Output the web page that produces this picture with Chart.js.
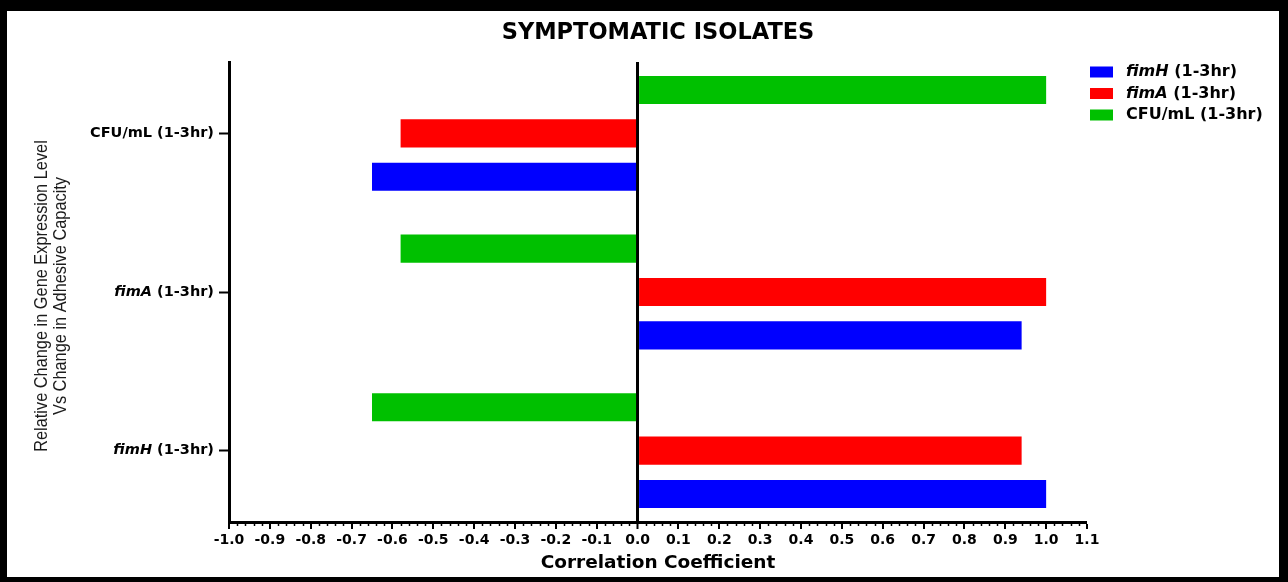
<!DOCTYPE html>
<html>
<head>
<meta charset="utf-8">
<title>Symptomatic isolates – correlation coefficients</title>
<script src="https://cdn.jsdelivr.net/npm/chart.js@4.4.1/dist/chart.umd.min.js"></script>
<style>
  html, body { margin: 0; padding: 0; background: #000; }
  #wrap { position: relative; width: 1288px; height: 582px; }
  canvas { display: block; }
</style>
</head>
<body>
<div id="wrap"><canvas id="chart" width="1288" height="582"></canvas></div>
<script>
// Categories on the vertical axis, top to bottom
const categories = ['CFU/mL (1-3hr)', 'fimA (1-3hr)', 'fimH (1-3hr)'];

// Correlation coefficients per category (same order as categories)
const fimHValues = [-0.65, 0.94, 1.0];
const fimAValues = [-0.58, 1.0, 0.94];
const cfuValues  = [1.0, -0.58, -0.65];

// Series names (legend order)
const seriesNames = ['fimH (1-3hr)', 'fimA (1-3hr)', 'CFU/mL (1-3hr)'];
const seriesColors = ['#0000ff', '#ff0000', '#00c000'];
const seriesValues = [fimHValues, fimAValues, cfuValues];

// Horizontal axis range and tick step
const xMin = -1.0, xMax = 1.1, xStep = 0.1, xMinorPerMajor = 5;

const titleText = 'SYMPTOMATIC ISOLATES';
const xTitle = 'Correlation Coefficient';
const yTitle = ['Relative Change in Gene Expression Level', 'Vs Change in Adhesive Capacity'];

const BOLD = 'bold';
const FAMILY = '"DejaVu Sans", "Liberation Sans", Arial, sans-serif';

// Gene names are written in italics, the rest upright
function drawMixedLabel(ctx, text, x, y, size, align) {
  const sp = text.indexOf(' ');
  const head = sp > 0 ? text.slice(0, sp) : text;
  const tail = sp > 0 ? text.slice(sp) : '';
  const italic = /^fim/.test(head);
  const headFont = (italic ? 'italic ' : '') + BOLD + ' ' + size + 'px ' + FAMILY;
  const tailFont = BOLD + ' ' + size + 'px ' + FAMILY;
  ctx.font = headFont;
  const wHead = ctx.measureText(head).width;
  ctx.font = tailFont;
  const wTail = ctx.measureText(tail).width;
  const sx = align === 'right' ? x - (wHead + wTail) : x;
  ctx.textAlign = 'left';
  ctx.textBaseline = 'middle';
  ctx.font = headFont;
  ctx.fillText(head, sx, y);
  ctx.font = tailFont;
  ctx.fillText(tail, sx + wHead, y);
}

const framePlugin = {
  id: 'frame',
  beforeDraw(chart) {
    const ctx = chart.ctx;
    ctx.save();
    ctx.fillStyle = '#000';
    ctx.fillRect(0, 0, chart.width, chart.height);
    ctx.fillStyle = '#fff';
    ctx.fillRect(7, 11, chart.width - 16, chart.height - 16);
    ctx.restore();
  }
};

const decorPlugin = {
  id: 'decor',
  afterDraw(chart) {
    const ctx = chart.ctx;
    const xs = chart.scales.x, ys = chart.scales.y;
    const area = chart.chartArea;
    ctx.save();
    ctx.fillStyle = '#000';
    ctx.strokeStyle = '#000';

    // chart title
    ctx.font = 'bold 22.5px ' + FAMILY;
    ctx.textAlign = 'center';
    ctx.textBaseline = 'middle';
    ctx.fillText(titleText, (area.left + area.right) / 2, 33);

    // vertical axis title: two condensed lines, rotated
    ctx.save();
    ctx.translate(42, (area.top + area.bottom) / 2 + 4);
    ctx.rotate(-Math.PI / 2);
    ctx.scale(0.86, 1);
    ctx.fillStyle = '#1c1c1c';
    ctx.font = '19px "Liberation Sans", Arial, sans-serif';
    ctx.textAlign = 'center';
    ctx.textBaseline = 'middle';
    yTitle.forEach((line, i) => ctx.fillText(line, 0, i * 18.5));
    ctx.restore();

    // minor ticks along the horizontal axis
    ctx.lineWidth = 1.5;
    const nMinor = Math.round((xMax - xMin) / xStep * xMinorPerMajor);
    for (let i = 0; i <= nMinor; i++) {
      if (i % xMinorPerMajor === 0) continue;
      const v = xMin + i * xStep / xMinorPerMajor;
      const px = Math.round(xs.getPixelForValue(v)) + 0.5;
      ctx.beginPath();
      ctx.moveTo(px, area.bottom);
      ctx.lineTo(px, area.bottom + 4);
      ctx.stroke();
    }

    // category labels on the vertical axis
    ys.ticks.forEach((t, i) => {
      const py = ys.getPixelForTick(i);
      drawMixedLabel(ctx, categories[t.value], area.left - 15, py, 14.5, 'right');
    });

    // legend
    const lx = area.right + 3, ly = 72, step = 21.5;
    seriesNames.forEach((name, i) => {
      const cy = ly + i * step;
      ctx.fillStyle = seriesColors[i];
      ctx.fillRect(lx, cy - 5.5, 23, 11);
      ctx.fillStyle = '#000';
      drawMixedLabel(ctx, name, lx + 36, cy, 16, 'left');
    });
    ctx.restore();
  }
};

// Datasets listed so the CFU bar sits on top of each group, fimH at the bottom
const drawOrder = [2, 1, 0];
const datasets = drawOrder.map(s => ({
  label: seriesNames[s],
  data: seriesValues[s].map((v, i) => ({ x: v, y: i })),
  backgroundColor: seriesColors[s],
  borderWidth: 0,
  categoryPercentage: 0.82,
  barPercentage: 0.65
}));

new Chart(document.getElementById('chart'), {
  type: 'bar',
  data: { datasets },
  options: {
    indexAxis: 'y',
    responsive: false,
    animation: false,
    layout: { padding: { top: 62, right: 201, left: 0, bottom: 0 } },
    plugins: {
      legend: { display: false },
      title: { display: false },
      tooltip: { enabled: false }
    },
    scales: {
      x: {
        type: 'linear',
        min: xMin,
        max: xMax,
        z: 1,
        afterFit(scale) { scale.height = 60; },
        ticks: {
          stepSize: xStep,
          autoSkip: false,
          maxRotation: 0,
          padding: 3,
          color: '#000',
          font: { family: FAMILY, size: 14, weight: 'bold' },
          callback: v => Number(v).toFixed(1)
        },
        grid: {
          drawOnChartArea: true,
          drawTicks: true,
          tickLength: 7,
          tickColor: '#000',
          tickWidth: 2,
          color: c => (c.tick && Math.abs(c.tick.value) < 1e-9) ? '#000' : 'rgba(0,0,0,0)',
          lineWidth: c => (c.tick && Math.abs(c.tick.value) < 1e-9) ? 3 : 0
        },
        border: { display: true, color: '#000', width: 3 },
        title: {
          display: true,
          text: xTitle,
          color: '#000',
          font: { family: FAMILY, size: 18.5, weight: 'bold' },
          padding: { top: 0, bottom: 8 }
        }
      },
      y: {
        type: 'linear',
        reverse: true,
        offset: false,
        min: -0.45,
        max: 2.45,
        afterBuildTicks(scale) { scale.ticks = categories.map((_, i) => ({ value: i })); },
        afterFit(scale) { scale.width = 229; },
        ticks: { display: false },
        grid: {
          offset: false,
          drawOnChartArea: false,
          drawTicks: true,
          tickLength: 10,
          tickWidth: 2,
          tickColor: '#000',
          color: '#000'
        },
        border: { display: true, color: '#000', width: 3 },
        title: { display: false }
      }
    }
  },
  plugins: [framePlugin, decorPlugin]
});
</script>
</body>
</html>
